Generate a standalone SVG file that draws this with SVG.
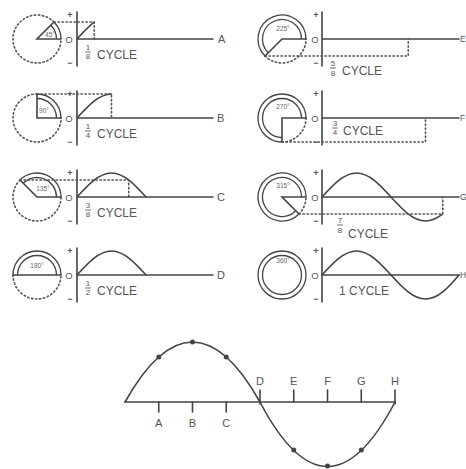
<svg xmlns="http://www.w3.org/2000/svg" width="466" height="469" viewBox="0 0 466 469">
<style>
.ln{fill:none;stroke:#444;stroke-width:1.6;stroke-linecap:round}
.th{fill:none;stroke:#444;stroke-width:1.3}
.ds{fill:none;stroke:#555;stroke-width:1.6;stroke-dasharray:1.4 2.6;stroke-linecap:round}
.t{font-family:"Liberation Sans",Arial,sans-serif;fill:#555}
.cy{font-size:12px}
.fr{font-size:8px;text-anchor:middle}
.ang{font-size:6.5px;text-anchor:middle;fill:#666}
.pm{font-size:9px;text-anchor:middle;font-weight:bold}
.o{font-size:9.5px;text-anchor:middle}
.lb{font-size:11px}
.lr{font-size:8.5px}
.bl{font-size:11px;text-anchor:middle}
.dot{fill:#444}
</style>
<defs>
<clipPath id="c8"><rect x="70" y="0" width="24.3" height="80"/></clipPath>
<clipPath id="c78"><rect x="315" y="160" width="127.8" height="80"/></clipPath>
</defs>
<rect width="466" height="469" fill="#fff"/>

<g id="panel-45">
<path class="ds" d="M53.97,22.03 A24,24 0 1 0 61,39"/>
<path class="th" d="M61,39 A24,24 0 0 0 53.97,22.03 M56.5,39 A19.5,19.5 0 0 0 50.79,25.21"/>
<path class="ln" d="M61,39 H37 L53.97,22.03"/>
<text class="t ang" x="50" y="37">45°</text>
<path class="ln" d="M77,12 V66 M77,39 H213"/>
<path class="ln" clip-path="url(#c8)" d="M77,39 C88.25,26.71 99.01,15 111.5,15"/>
<path class="ds" d="M54,22 H94.25 V39"/>
<text class="t pm" x="70" y="18">+</text><text class="t pm" x="70" y="66">−</text>
<text class="t o" x="69" y="42.5">O</text>
<text class="t fr" x="88" y="50">1</text><path class="ln" d="M85.5,52 H90.5" style="stroke-width:0.8"/><text class="t fr" x="88" y="59">8</text>
<text class="t cy" x="97" y="59">CYCLE</text>
<text class="t lb" x="218" y="43">A</text>
</g>

<g id="panel-90">
<path class="ds" d="M37,94 A24,24 0 1 0 61,118"/>
<path class="th" d="M61,118 A24,24 0 0 0 37,94 M56.5,118 A19.5,19.5 0 0 0 37,98.5"/>
<path class="ln" d="M61,118 H37 V94"/>
<text class="t ang" x="44" y="113">90°</text>
<path class="ln" d="M77,91 V145 M77,118 H213"/>
<path class="ln" d="M77,118 C88.25,105.71 99.01,94 111.5,94"/>
<path class="ds" d="M37,94 H111.5 V118"/>
<text class="t pm" x="70" y="97">+</text><text class="t pm" x="70" y="145">−</text>
<text class="t o" x="69" y="121.5">O</text>
<text class="t fr" x="88" y="129">1</text><path class="ln" d="M85.5,131 H90.5" style="stroke-width:0.8"/><text class="t fr" x="88" y="138">4</text>
<text class="t cy" x="97" y="138">CYCLE</text>
<text class="t lb" x="217" y="122">B</text>
</g>

<g id="panel-135">
<path class="ds" d="M20.03,180.03 A24,24 0 1 0 61,197"/>
<path class="th" d="M61,197 A24,24 0 0 0 20.03,180.03 M56.5,197 A19.5,19.5 0 0 0 23.21,183.21"/>
<path class="ln" d="M61,197 H37 L20.03,180.03"/>
<text class="t ang" x="43" y="191">135°</text>
<path class="ln" d="M77,170 V224 M77,197 H213"/>
<path class="ln" d="M77,197 C88.25,184.71 99.01,173 111.5,173 C123.99,173 134.75,184.71 146,197"/>
<path class="ds" d="M20,180 H128.75 V197"/>
<text class="t pm" x="70" y="176">+</text><text class="t pm" x="70" y="224">−</text>
<text class="t o" x="69" y="200.5">O</text>
<text class="t fr" x="88" y="208">3</text><path class="ln" d="M85.5,210 H90.5" style="stroke-width:0.8"/><text class="t fr" x="88" y="217">8</text>
<text class="t cy" x="97" y="217">CYCLE</text>
<text class="t lb" x="217" y="201">C</text>
</g>

<g id="panel-180">
<path class="ds" d="M13,275 A24,24 0 0 0 61,275"/>
<path class="th" d="M61,275 A24,24 0 0 0 13,275 M56.5,275 A19.5,19.5 0 0 0 17.5,275"/>
<path class="ln" d="M13,275 H61"/>
<text class="t ang" x="37" y="268">180°</text>
<path class="ln" d="M77,248 V302 M77,275 H213"/>
<path class="ln" d="M77,275 C88.25,262.71 99.01,251 111.5,251 C123.99,251 134.75,262.71 146,275"/>
<text class="t pm" x="70" y="254">+</text><text class="t pm" x="70" y="302">−</text>
<text class="t o" x="69" y="278.5">O</text>
<text class="t fr" x="88" y="286">1</text><path class="ln" d="M85.5,288 H90.5" style="stroke-width:0.8"/><text class="t fr" x="88" y="295">2</text>
<text class="t cy" x="97" y="295">CYCLE</text>
<text class="t lb" x="217" y="279">D</text>
</g>

<g id="panel-225">
<path class="ds" d="M265.03,55.97 A24,24 0 0 0 306,39"/>
<path class="th" d="M306,39 A24,24 0 1 0 265.03,55.97 M301.5,39 A19.5,19.5 0 1 0 268.21,52.79"/>
<path class="ln" d="M306,39 H282 L265.03,55.97"/>
<text class="t ang" x="283" y="31">225°</text>
<path class="ln" d="M322,12 V66 M322,39 H459"/>
<path class="ds" d="M265,56 H408.25 V39"/>
<text class="t pm" x="316" y="18">+</text><text class="t pm" x="316" y="66">−</text>
<text class="t o" x="315" y="42.5">O</text>
<text class="t fr" x="333" y="66">5</text><path class="ln" d="M330.5,68 H335.5" style="stroke-width:0.8"/><text class="t fr" x="333" y="76">8</text>
<text class="t cy" x="342" y="75">CYCLE</text>
<text class="t lr" x="460" y="42">E</text>
</g>

<g id="panel-270">
<path class="ds" d="M282,142 A24,24 0 0 0 306,118"/>
<path class="th" d="M306,118 A24,24 0 1 0 282,142 M301.5,118 A19.5,19.5 0 1 0 282,137.5"/>
<path class="ln" d="M306,118 H282 V142"/>
<text class="t ang" x="283" y="109">270°</text>
<path class="ln" d="M322,91 V145 M322,118 H459"/>
<path class="ds" d="M282,142 H425.5 V118"/>
<text class="t pm" x="316" y="97">+</text><text class="t pm" x="316" y="145">−</text>
<text class="t o" x="315" y="121.5">O</text>
<text class="t fr" x="335" y="126">3</text><path class="ln" d="M332.5,128 H337.5" style="stroke-width:0.8"/><text class="t fr" x="335" y="135">4</text>
<text class="t cy" x="343" y="135">CYCLE</text>
<text class="t lr" x="460" y="121">F</text>
</g>

<g id="panel-315">
<path class="ds" d="M298.97,213.97 A24,24 0 0 0 306,197"/>
<path class="th" d="M306,197 A24,24 0 1 0 298.97,213.97 M301.5,197 A19.5,19.5 0 1 0 295.79,210.79"/>
<path class="ln" d="M306,197 H282 L298.97,213.97"/>
<text class="t ang" x="283" y="188">315°</text>
<path class="ln" d="M322,170 V224 M322,197 H459"/>
<path class="ln" clip-path="url(#c78)" d="M322,197 C333.25,184.71 344.01,173 356.5,173 C368.99,173 379.75,184.71 391,197 C402.25,209.29 413.01,221 425.5,221 C437.99,221 448.75,209.29 460,197"/>
<path class="ds" d="M299,214 H442.75 V197"/>
<text class="t pm" x="316" y="176">+</text><text class="t pm" x="316" y="224">−</text>
<text class="t o" x="315" y="200.5">O</text>
<text class="t fr" x="340" y="223">7</text><path class="ln" d="M337.5,225 H342.5" style="stroke-width:0.8"/><text class="t fr" x="340" y="233">8</text>
<text class="t cy" x="348" y="238">CYCLE</text>
<text class="t lr" x="460" y="200">G</text>
</g>

<g id="panel-360">
<circle class="th" cx="282" cy="275" r="24"/>
<circle class="th" cx="282" cy="275" r="19.5"/>
<text class="t ang" x="283" y="263">360°</text>
<path class="ln" d="M322,248 V302 M322,275 H459"/>
<path class="ln" d="M322,275 C333.25,262.71 344.01,251 356.5,251 C368.99,251 379.75,262.71 391,275 C402.25,287.29 413.01,299 425.5,299 C437.99,299 448.75,287.29 459,275"/>
<text class="t pm" x="316" y="254">+</text><text class="t pm" x="316" y="302">−</text>
<text class="t o" x="315" y="278.5">O</text>
<text class="t cy" x="339" y="295">1 CYCLE</text>
<text class="t lr" x="460" y="278">H</text>
</g>

<g id="sine-wave">
<path class="ln" d="M125,402 H395"/>
<path class="ln" d="M125,402 Q192.5,282 260,402 Q327.5,531 395,402"/>
<path class="ln" d="M158.75,402 V412 M192.5,402 V412 M226.25,402 V412 M260,390 V404 M293.75,390 V402 M327.5,390 V402 M361.25,390 V402 M395,390 V404"/>
<circle class="dot" cx="158.75" cy="357" r="2.5"/>
<circle class="dot" cx="192.5" cy="342" r="2.5"/>
<circle class="dot" cx="226.25" cy="357" r="2.5"/>
<circle class="dot" cx="293.75" cy="450" r="2.5"/>
<circle class="dot" cx="327.5" cy="466" r="2.5"/>
<circle class="dot" cx="361.25" cy="450" r="2.5"/>
<text class="t bl" x="158.75" y="427">A</text>
<text class="t bl" x="192.5" y="427">B</text>
<text class="t bl" x="226.25" y="427">C</text>
<text class="t bl" x="260" y="385">D</text>
<text class="t bl" x="293.75" y="385">E</text>
<text class="t bl" x="327.5" y="385">F</text>
<text class="t bl" x="361.25" y="385">G</text>
<text class="t bl" x="395" y="385">H</text>
</g>
</svg>
